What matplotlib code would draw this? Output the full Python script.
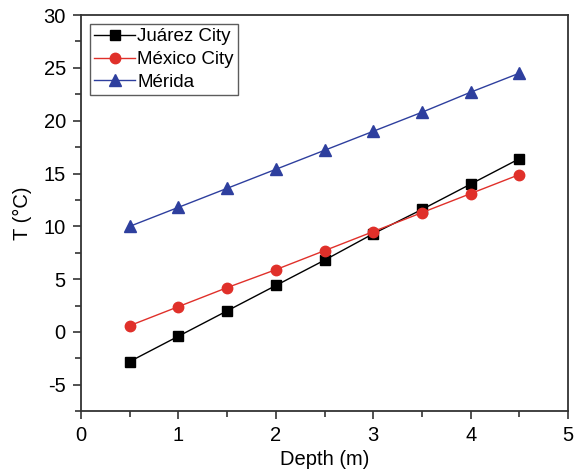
import matplotlib
matplotlib.use("Agg")
import matplotlib.pyplot as plt
from matplotlib.ticker import MultipleLocator

plt.rcParams['font.family'] = ['Liberation Sans', 'DejaVu Sans']
plt.rcParams['axes.unicode_minus'] = False

depth = [0.5, 1.0, 1.5, 2.0, 2.5, 3.0, 3.5, 4.0, 4.5]
juarez = [-2.8, -0.4, 2.0, 4.4, 6.8, 9.3, 11.6, 14.0, 16.4]
mexico = [0.6, 2.4, 4.2, 5.9, 7.7, 9.5, 11.3, 13.1, 14.9]
merida = [10.0, 11.8, 13.6, 15.4, 17.2, 19.0, 20.8, 22.7, 24.5]

fig = plt.figure(figsize=(5.75, 4.71), dpi=100)
ax = fig.add_axes([0.141, 0.127, 0.847, 0.841])

ax.plot(depth, juarez, color='black', marker='s', markersize=7, lw=1, label='Juárez City')
ax.plot(depth, mexico, color='#e0302a', marker='o', markersize=7.5, lw=1, label='México City')
ax.plot(depth, merida, color='#2e3f9e', marker='^', markersize=8.5, lw=1, label='Mérida')

ax.set_xlim(0, 5)
ax.set_ylim(-7.5, 30)
ax.xaxis.set_major_locator(MultipleLocator(1))
ax.xaxis.set_minor_locator(MultipleLocator(0.5))
ax.yaxis.set_major_locator(MultipleLocator(5))
ax.yaxis.set_minor_locator(MultipleLocator(2.5))
ax.tick_params(which='major', direction='out', length=6, width=1.2, labelsize=14.5, color='#333333', pad=5)
ax.tick_params(which='minor', direction='out', length=4, width=1.2, color='#333333')
ax.tick_params(top=False, right=False, which='both')
for s in ax.spines.values():
    s.set_linewidth(1.3)
    s.set_color('#333333')

ax.set_xlabel('Depth (m)', fontsize=14.5, labelpad=3)
ax.set_ylabel('T (°C)', fontsize=14.5, labelpad=8)

leg = ax.legend(loc='upper left', fontsize=13.5, frameon=True, fancybox=False,
                edgecolor='#333333', handlelength=2.2, handletextpad=0.1,
                borderpad=0.2, labelspacing=0.3, borderaxespad=0.5)
leg.get_frame().set_linewidth(1.0)

fig.savefig('out.png', dpi=100)
